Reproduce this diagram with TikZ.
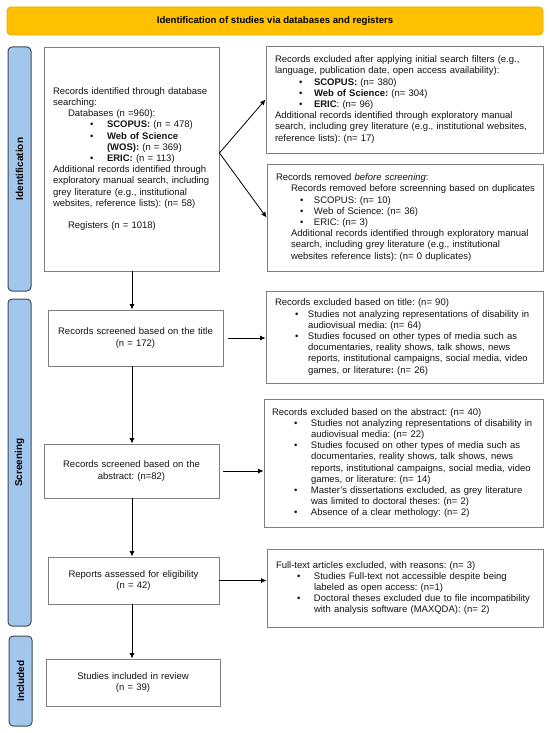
\documentclass[tikz,border=0pt]{standalone}
\usepackage{fontspec}
\setmainfont{Liberation Sans}
\usetikzlibrary{arrows.meta}
\definecolor{bannerfill}{HTML}{FFC000}
\definecolor{bannerline}{HTML}{E3AA00}
\definecolor{stripfill}{HTML}{A3C6EC}
\definecolor{stripline}{HTML}{3C4B5C}
\definecolor{boxline}{HTML}{7F7F7F}
\definecolor{txt}{HTML}{141414}
\newcommand{\bl}[2]{\hspace*{#1}\makebox[#2][l]{\textbullet}}
\newcommand{\cont}[1]{\hspace*{#1}}
\frenchspacing
\begin{document}
\begin{tikzpicture}[x=1pt,y=-1pt,
  fbox/.style={draw=boxline, line width=0.9pt, fill=white, text=txt,
    inner xsep=9pt, inner ysep=2pt, align=left,
    font=\fontsize{9.5}{11.2}\selectfont},
  cbox/.style={fbox, align=center},
  stripbox/.style={draw=stripline, line width=1pt, fill=stripfill, rounded corners=4pt,
    rotate=90, minimum height=23pt, inner sep=0pt, text=black,
    font=\fontsize{10}{12}\selectfont\bfseries},
  bannerbox/.style={draw=bannerline, line width=0.8pt, fill=bannerfill, rounded corners=4pt,
    text=black, font=\fontsize{9.6}{11}\selectfont\bfseries},
  arr/.style={-{Latex[length=5.5pt,width=5pt]}, line width=0.8pt, black}]
\useasboundingbox (0,0) rectangle (550,733);
\fill[white] (0,0) rectangle (550,733);

% banner
\node[bannerbox, minimum width=536pt, minimum height=28pt] (ban) at (275,21)
  {Identification of studies via databases and registers};

% phase strips
\node[stripbox, minimum width=244pt] (s1) at (19.5,169) {Identification};
\node[stripbox, minimum width=327pt] (s2) at (19.5,462.5) {Screening};
\node[stripbox, minimum width=90pt] (s3) at (20.5,681) {Included};

% left column
\node[fbox, text width=157pt, minimum height=224pt] (b1) at (131.5,159) {%
Records identified through database\\
searching:\\
\cont{15pt}Databases (n =960):\\
\bl{37pt}{17pt}\textbf{SCOPUS:} (n = 478)\\
\bl{37pt}{17pt}\textbf{Web of Science}\\
\cont{54pt}\textbf{(WOS):} (n = 369)\\
\bl{37pt}{17pt}\textbf{ERIC:} (n = 113)\\
Additional records identified through\\
exploratory manual search, including\\
grey literature (e.g., institutional\\
websites, reference lists): (n= 58)\\[11.2pt]
\cont{15pt}Registers (n = 1018)};

\node[cbox, text width=157pt, minimum height=56pt] (t) at (135.5,338)
  {Records screened based on the title\\(n = 172)};
\node[cbox, text width=157pt, minimum height=54pt] (a) at (131.5,471)
  {Records screened based on the\\abstract: (n=82)};
\node[cbox, text width=153pt, minimum height=47pt] (e) at (133.5,580.5)
  {Reports assessed for eligibility\\(n = 42)};
\node[cbox, text width=156pt, minimum height=47pt] (inc) at (133,682.5)
  {Studies included in review\\(n = 39)};

% right column
\node[fbox, text width=259pt, minimum height=107pt] (x1) at (404.5,99.5) {%
Records excluded after applying initial search filters (e.g.,\\
language, publication date, open access availability):\\
\bl{24pt}{15pt}\textbf{SCOPUS:} (n= 380)\\
\bl{24pt}{15pt}\textbf{Web of Science:} (n= 304)\\
\bl{24pt}{15pt}\textbf{ERIC}: (n= 96)\\
Additional records identified through exploratory manual\\
search, including grey literature (e.g., institutional websites,\\
reference lists): (n= 17)};

\node[fbox, text width=258pt, minimum height=107pt] (x2) at (405,217.5) {%
Records removed \textit{before screening}:\\
\cont{15pt}\mbox{Records removed before screenning based on duplicates}\\
\bl{24pt}{14pt}SCOPUS: (n= 10)\\
\bl{24pt}{14pt}Web of Science: (n= 36)\\
\bl{24pt}{14pt}ERIC: (n= 3)\\
\cont{15pt}Additional records identified through exploratory manual\\
\cont{15pt}search, including grey literature (e.g., institutional\\
\cont{15pt}websites reference lists): (n= 0 duplicates)};

\node[fbox, text width=259pt, minimum height=92pt] (x3) at (404.5,337) {%
Records excluded based on title: (n= 90)\\
\bl{20pt}{13pt}Studies not analyzing representations of disability in\\
\cont{33pt}audiovisual media: (n= 64)\\
\bl{20pt}{13pt}Studies focused on other types of media such as\\
\cont{33pt}documentaries, reality shows, talk shows, news\\
\cont{33pt}reports, institutional campaigns, social media, video\\
\cont{33pt}games, or literature\textbf{:} (n= 26)};

\node[fbox, inner xsep=8pt, text width=263pt, minimum height=128pt] (x4) at (403.5,463) {%
Records excluded based on the abstract: (n= 40)\\
\bl{22pt}{17pt}Studies not analyzing representations of disability in\\
\cont{39pt}audiovisual media: (n= 22)\\
\bl{22pt}{17pt}Studies focused on other types of media such as\\
\cont{39pt}documentaries, reality shows, talk shows, news\\
\cont{39pt}reports, institutional campaigns, social media, video\\
\cont{39pt}games, or literature: (n= 14)\\
\bl{22pt}{17pt}Master's dissertations excluded, as grey literature\\
\cont{39pt}was limited to doctoral theses: (n= 2)\\
\bl{22pt}{17pt}Absence of a clear methology: (n= 2)};

\node[fbox, text width=258pt, minimum height=78pt] (x5) at (405,588) {%
Full-text articles excluded, with reasons: (n= 3)\\
\bl{21pt}{17pt}Studies Full-text not accessible despite being\\
\cont{38pt}labeled as open access: (n=1)\\
\bl{21pt}{17pt}Doctoral theses excluded due to file incompatibility\\
\cont{38pt}with analysis software (MAXQDA): (n= 2)};

% connectors
\coordinate (vx) at (132,0);
\draw[arr] (vx |- b1.south) -- (vx |- t.north);
\draw[arr] (vx |- t.south) -- (vx |- a.north);
\draw[arr] (vx |- a.south) -- (vx |- e.north);
\draw[arr] (vx |- e.south) -- (vx |- inc.north);
\draw[arr] ([yshift=6pt]b1.east) -- (x1.west);
\draw[arr] ([yshift=6pt]b1.east) -- (x2.west);
\draw[arr] ([xshift=5pt]t.east) -- (t.east -| x3.west);
\draw[arr] ([xshift=4pt]a.east) -- (a.east -| x4.west);
\draw[arr] (e.east) -- (e.east -| x5.west);
\end{tikzpicture}
\end{document}
